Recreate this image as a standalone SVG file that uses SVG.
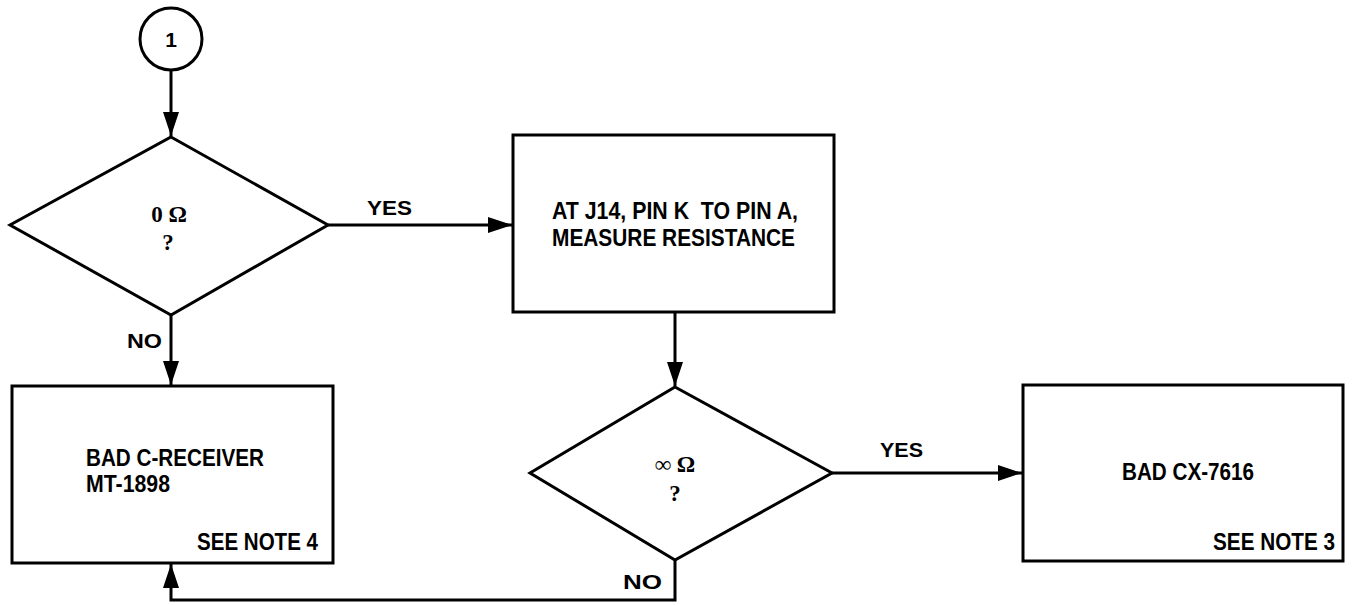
<svg xmlns="http://www.w3.org/2000/svg" width="1352" height="605" viewBox="0 0 1352 605">
<style>
.shape{fill:#fff;stroke:#000;stroke-width:3}
.line{fill:none;stroke:#000;stroke-width:3}
.t{font-family:"Liberation Sans",Arial,sans-serif;font-weight:bold;font-size:23px;fill:#000}
.l{font-family:"Liberation Sans",Arial,sans-serif;font-weight:bold;font-size:21px;fill:#000}
.s{font-family:"Liberation Serif","Times New Roman",serif;font-weight:bold;font-size:23px;fill:#000}
.c{text-anchor:middle}
</style>
<defs>
<marker id="arr" viewBox="0 0 24 16" refX="24" refY="8" markerWidth="24" markerHeight="16" markerUnits="userSpaceOnUse" orient="auto">
<path d="M0,0 L24,8 L0,16 Z" fill="#000"/>
</marker>
</defs>
<rect width="1352" height="605" fill="#fff"/>
<g id="connectors">
<line class="line" x1="171" y1="70" x2="171" y2="136" marker-end="url(#arr)"/>
<line class="line" x1="328" y1="225" x2="512" y2="225" marker-end="url(#arr)"/>
<line class="line" x1="171" y1="315" x2="171" y2="385" marker-end="url(#arr)"/>
<line class="line" x1="675" y1="312" x2="675" y2="386" marker-end="url(#arr)"/>
<line class="line" x1="832" y1="473" x2="1022" y2="473" marker-end="url(#arr)"/>
<polyline class="line" points="675,560 675,600 171,600 171,564" marker-end="url(#arr)"/>
<text class="l" x="367" y="215" textLength="45" lengthAdjust="spacingAndGlyphs">YES</text>
<text class="l" x="880" y="457" textLength="43" lengthAdjust="spacingAndGlyphs">YES</text>
<text class="l" x="127" y="348" textLength="35" lengthAdjust="spacingAndGlyphs">NO</text>
<text class="l" x="623" y="589" textLength="39" lengthAdjust="spacingAndGlyphs">NO</text>
</g>
<g id="start">
<circle class="shape" cx="171" cy="39" r="31"/>
<text class="l c" x="171" y="47">1</text>
</g>
<g id="decision1">
<polygon class="shape" points="171,137 328,225 171,315 10,225"/>
<text class="s c" x="169" y="222">0 Ω</text>
<text class="s c" x="168" y="250">?</text>
</g>
<g id="measure">
<rect class="shape" x="513" y="135" width="321" height="177"/>
<text class="t" x="552" y="219" textLength="246" lengthAdjust="spacingAndGlyphs" xml:space="preserve">AT J14, PIN K  TO PIN A,</text>
<text class="t" x="552" y="246" textLength="243" lengthAdjust="spacingAndGlyphs">MEASURE RESISTANCE</text>
</g>
<g id="decision2">
<polygon class="shape" points="675,387 832,473 675,560 530,473"/>
<text class="s c" x="675" y="472">∞ Ω</text>
<text class="s c" x="675" y="501">?</text>
</g>
<g id="bad-receiver">
<rect class="shape" x="12" y="386" width="321" height="177"/>
<text class="t" x="86" y="466" textLength="178" lengthAdjust="spacingAndGlyphs">BAD C-RECEIVER</text>
<text class="t" x="86" y="492" textLength="84" lengthAdjust="spacingAndGlyphs">MT-1898</text>
<text class="t" x="197" y="550" textLength="121" lengthAdjust="spacingAndGlyphs">SEE NOTE 4</text>
</g>
<g id="bad-cx">
<rect class="shape" x="1023" y="385" width="320" height="176"/>
<text class="t" x="1122" y="480" textLength="132" lengthAdjust="spacingAndGlyphs">BAD CX-7616</text>
<text class="t" x="1213" y="550" textLength="122" lengthAdjust="spacingAndGlyphs">SEE NOTE 3</text>
</g>
</svg>
